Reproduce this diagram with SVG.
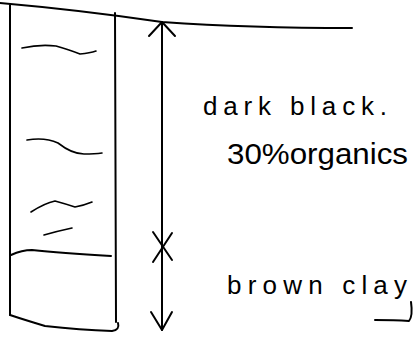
<svg xmlns="http://www.w3.org/2000/svg" width="417" height="339" viewBox="0 0 417 339">
  <style>
    .ink { fill: none; stroke: #000; stroke-width: 2; stroke-linecap: round; stroke-linejoin: round; }
    .thin { stroke-width: 1.6; }
    .note { font-family: "Liberation Sans", "DejaVu Sans", sans-serif; fill: #000; }
  </style>
  <rect width="417" height="339" fill="#fff"/>

  <!-- ground surface -->
  <g id="ground">
    <path class="ink" d="M0 3 Q80 10 162 22 Q250 28 352 28"/>
  </g>

  <!-- bore hole column -->
  <g id="borehole">
    <path class="ink" d="M10 5 L10 315"/>
    <path class="ink" d="M115 13 L116 322"/>
    <path class="ink" d="M10 315 Q25 320 45 326 Q80 330 112 331 Q120 330 118 323"/>
    <!-- layer boundary -->
    <path class="ink" d="M11 255 Q22 250 32 250 Q60 253 111 256"/>
    <!-- organic texture strokes -->
    <path class="ink thin" d="M22 48 Q40 44 56 46 Q70 50 80 54 Q90 53 96 51"/>
    <path class="ink thin" d="M27 140 Q45 137 58 143 Q72 154 84 154 Q95 154 102 153"/>
    <path class="ink thin" d="M31 212 Q45 203 55 201 Q66 204 75 207 Q85 205 92 202"/>
    <path class="ink thin" d="M44 235 Q58 231 72 228"/>
  </g>

  <!-- depth dimension with arrows and layer tick -->
  <g id="connectors">
    <path class="ink" d="M162 22 L162 330"/>
    <path class="ink" d="M149 36 L162 22 L175 36"/>
    <path class="ink" d="M151 312 L162 330 L172 312"/>
    <path class="ink" d="M153 232 L172 260 M172 233 L153 262"/>
  </g>

  <g id="label-dark">
    <text class="note" x="203" y="115" font-size="26" textLength="184" lengthAdjust="spacing">dark black.</text>
  </g>
  <g id="label-organics">
    <text class="note" x="227" y="164" font-size="30" textLength="181" lengthAdjust="spacingAndGlyphs">30%organics</text>
  </g>
  <g id="label-clay">
    <text class="note" x="227" y="294" font-size="26" textLength="180" lengthAdjust="spacing">brown clay</text>
    <path class="ink" d="M375 320 Q395 320 409 321 Q413 316 411 302"/>
  </g>
</svg>
